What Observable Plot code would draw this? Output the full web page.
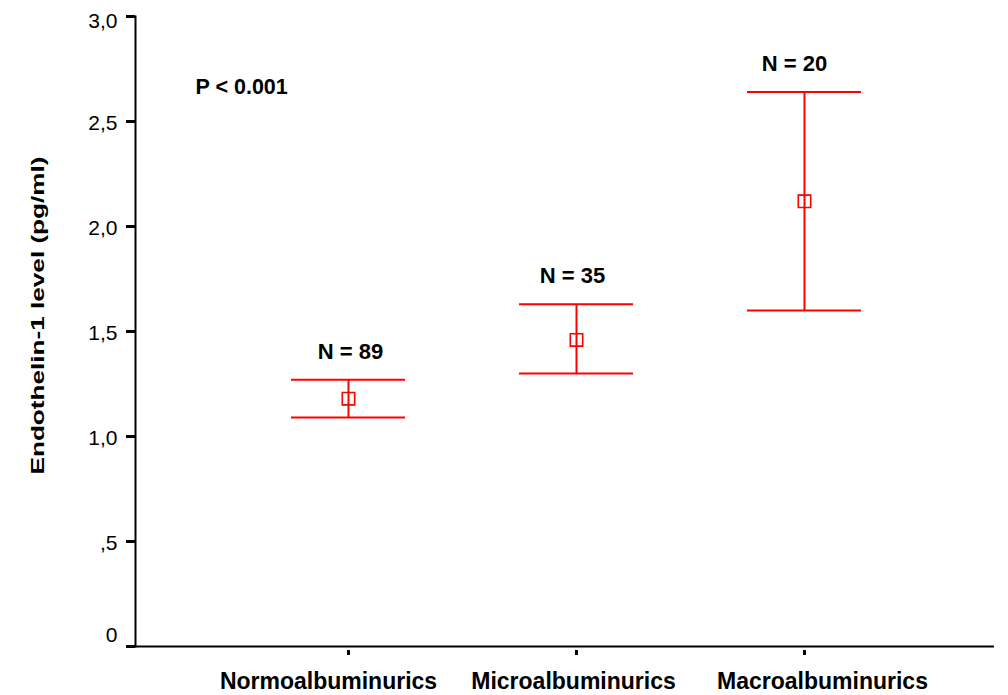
<!DOCTYPE html>
<html>
<head>
<meta charset="utf-8">
<script src="https://cdn.jsdelivr.net/npm/d3@7"></script>
<script src="https://cdn.jsdelivr.net/npm/@observablehq/plot@0.6"></script>
<style>
  html, body { margin: 0; padding: 0; background: #fff; }
  #chart svg { display: block; }
</style>
</head>
<body>
<div id="chart"></div>
<script>
const categories = ["Normoalbuminurics", "Microalbuminurics", "Macroalbuminurics"];
const means = [1.18, 1.46, 2.12];
const upper = [1.27, 1.63, 2.64];
const lower = [1.09, 1.30, 1.60];
const nLabels = ["N = 89", "N = 35", "N = 20"];
const yTicks = [0, 0.5, 1, 1.5, 2, 2.5, 3];
const yTickLabels = ["0", ",5", "1,0", "1,5", "2,0", "2,5", "3,0"];
const yTitle = "Endothelin-1 level (pg/ml)";
const pText = "P < 0.001";

const rows = categories.map((c, i) => ({cat: c, mean: means[i], hi: upper[i], lo: lower[i], n: nLabels[i]}));
const tickRows = yTicks.map((v, i) => ({v, label: yTickLabels[i]}));

const red = "#ff0000";
const font = "'Liberation Sans', Arial, sans-serif";

// label nudges (style offsets, px)
const catDx = [-20, -3, 18];
const nDx = [2, -4, -10];

const chart = Plot.plot({
  width: 1008,
  height: 695,
  marginLeft: 135,
  marginRight: 14,
  marginTop: 16,
  marginBottom: 49,
  style: {fontFamily: font, background: "#fff", color: "#000"},
  x: {type: "band", domain: categories, range: [290, 862], paddingInner: 0.5, paddingOuter: 0, axis: null, label: null},
  y: {domain: [0, 3], axis: null, label: null},
  marks: [
    // y axis ticks
    Plot.axisY({ticks: yTicks, tickSize: 9, strokeWidth: 3, tickFormat: () => "", label: null}),
    // y tick labels
    Plot.text(tickRows.filter(d => d.v > 0 && d.v < 3), {y: "v", text: "label", frameAnchor: "left", textAnchor: "end", dx: -18, dy: 2, fontSize: 21}),
    Plot.text(tickRows.filter(d => d.v === 3), {y: "v", text: "label", frameAnchor: "left", textAnchor: "end", dx: -18, dy: 5, fontSize: 21}),
    Plot.text(tickRows.filter(d => d.v === 0), {y: "v", text: "label", frameAnchor: "left", textAnchor: "end", dx: -18, dy: -11, fontSize: 21}),
    // axes lines
    Plot.frame({anchor: "left", strokeWidth: 2}),
    Plot.ruleY([0], {strokeWidth: 2}),
    // x ticks
    Plot.axisX({tickSize: 5, strokeWidth: 3, tickFormat: () => "", dy: 4, label: null}),
    // category labels
    ...categories.map((c, i) => Plot.text([c], {x: d => d, frameAnchor: "bottom", lineAnchor: "top", dy: 26, dx: catDx[i], fontSize: 23, fontWeight: "bold"})),
    // error bars
    Plot.ruleX(rows, {x: "cat", y1: "lo", y2: "hi", stroke: red, strokeWidth: 2}),
    Plot.tickY(rows, {x: "cat", y: "hi", stroke: red, strokeWidth: 2}),
    Plot.tickY(rows, {x: "cat", y: "lo", stroke: red, strokeWidth: 2}),
    Plot.dot(rows, {x: "cat", y: "mean", symbol: "square", r: 7, stroke: red, strokeWidth: 1.6, fill: "none"}),
    // N labels
    ...rows.map((r, i) => Plot.text([r], {x: "cat", y: "hi", text: "n", lineAnchor: "bottom", dy: -21, dx: nDx[i], fontSize: 22, fontWeight: "bold"})),
    // P label
    Plot.text([pText], {frameAnchor: "top-left", textAnchor: "start", lineAnchor: "top", dx: 60, dy: 62, fontSize: 21.5, fontWeight: "bold"}),
    // y title
    Plot.text([yTitle], {frameAnchor: "left", rotate: -90, textAnchor: "middle", lineAnchor: "bottom", dx: -92, dy: -16, fontSize: 18, fontWeight: "bold", className: "ytitle"})
  ]
});

const t = chart.querySelector(".ytitle text");
if (t) { t.setAttribute("textLength", "318"); t.setAttribute("lengthAdjust", "spacingAndGlyphs"); }

document.getElementById("chart").appendChild(chart);
</script>
</body>
</html>
